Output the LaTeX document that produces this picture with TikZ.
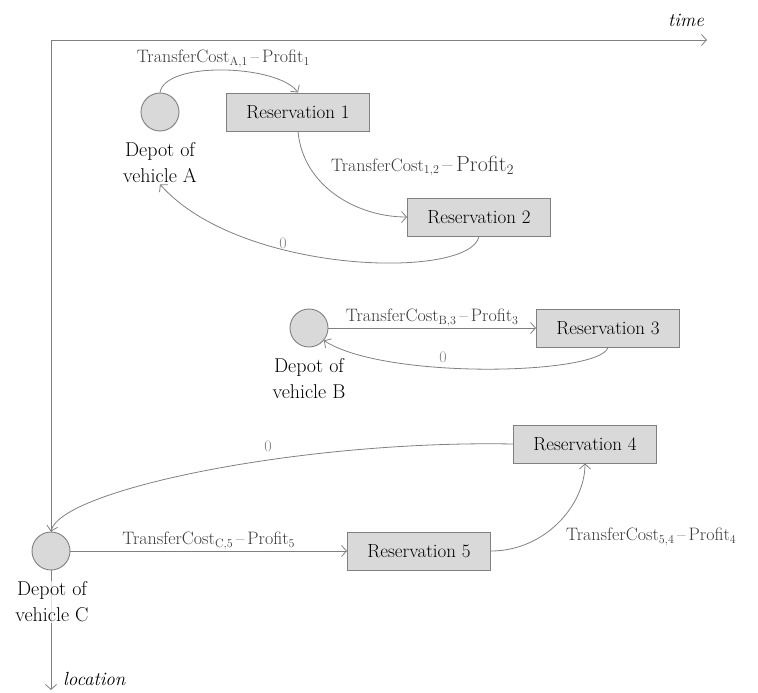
\documentclass[tikz,border=0pt]{standalone}
\usetikzlibrary{arrows.meta}
\definecolor{linegray}{HTML}{808080}
\definecolor{boxfill}{HTML}{D9D9D9}
\definecolor{labgray}{HTML}{3A3A3A}
\begin{document}
\begin{tikzpicture}[x=1pt,y=-1pt,
  conn/.style={draw=linegray, line width=0.8pt, -{Straight Barb[length=5pt,width=11pt]}},
  resbox/.style={draw=linegray, fill=boxfill, line width=0.9pt, minimum width=143pt, minimum height=38pt, inner sep=0pt, font=\fontsize{19}{22}\selectfont},
  depot/.style={circle, draw=linegray, fill=boxfill, line width=0.9pt, minimum size=38pt, inner sep=0pt},
  deplab/.style={align=center, inner sep=1pt, font=\fontsize{20}{26}\selectfont},
  elab/.style={text=labgray, inner sep=1pt, font=\fontsize{18}{20}\selectfont},
  zlab/.style={text=linegray, inner sep=1pt, font=\fontsize{16}{18}\selectfont},
  axlab/.style={inner sep=1pt, font=\fontsize{19}{22}\selectfont\itshape}
]
\useasboundingbox (0,0) rectangle (758,693);

% axes
\coordinate (O) at (51,40);
\coordinate (T) at (707,40);
\coordinate (L) at (51,690);
\draw[conn] (O) -- (T);
\draw[conn] (O) -- (L);
\node[axlab] (tl) at (686,20) {time};
\node[axlab, anchor=west] (ll) at (62,679) {location};

% nodes
\node[depot] (dA) at (160,112) {};
\node[deplab] (dAl) at (160,163) {Depot of\\vehicle A};
\node[resbox] (r1) at (298,112) {Reservation 1};
\node[resbox] (r2) at (479,217) {Reservation 2};

\node[depot] (dB) at (309,328) {};
\node[deplab] (dBl) at (309,379) {Depot of\\vehicle B};
\node[resbox] (r3) at (608,328) {Reservation 3};

\node[resbox] (r4) at (585,444) {Reservation 4};
\node[resbox] (r5) at (419,551) {Reservation 5};
\node[depot] (dC) at (51,551) {};
\node[deplab, fill=white, fill opacity=0.75, text opacity=1] (dCl) at (52,602) {Depot of\\vehicle C};

% connectors
\draw[conn] (dA.north) .. controls +(5,-32) and +(-20,-28) .. (r1.north)
  node[elab, pos=0.5, above=1pt] (lA1) {TransferCost$_{\mathrm{A,1}}$\,--\,Profit$_{1}$};
\draw[conn] (r1.south) .. controls +(5,55) and +(-50,0) .. (r2.west);
\node[elab, anchor=west] (l12) at (330,166) {TransferCost$_{\mathrm{1,2}}$\,{\fontsize{22}{24}\selectfont --\,Profit$_{2}$}};
\draw[conn] (r2.south) .. controls (470,280) and (240,275) .. (dAl.south);
\node[zlab] (z2) at (283,243) {0};

\draw[conn] (dB.east) -- (r3.west)
  node[elab, midway, above=0pt] (lB3) {TransferCost$_{\mathrm{B,3}}$\,--\,Profit$_{3}$};
\draw[conn] (r3.south) .. controls (600,375) and (385,380) .. (dB.-40);
\node[zlab] (z3) at (443,357) {0};

\draw[conn] (r4.west) .. controls (300,440) and (60,490) .. (dC.north);
\node[zlab] (z4) at (268,446) {0};
\draw[conn] (dC.east) -- (r5.west)
  node[elab, midway, above=0pt] (lC5) {TransferCost$_{\mathrm{C,5}}$\,--\,Profit$_{5}$};
\draw[conn] (r5.east) .. controls (545,551) and (585,505) .. (r4.south);
\node[elab, anchor=west] (l54) at (565,537) {TransferCost$_{\mathrm{5,4}}$\,--\,Profit$_{4}$};
\end{tikzpicture}
\end{document}
